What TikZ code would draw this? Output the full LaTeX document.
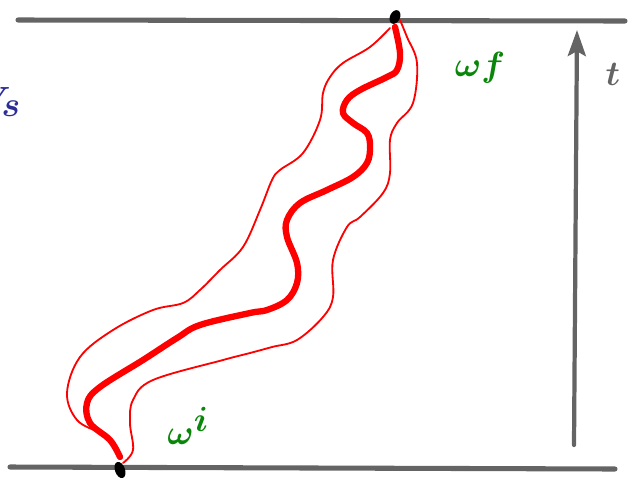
\documentclass[tikz,border=0pt]{standalone}
\usepackage{tikz}
\usetikzlibrary{arrows.meta,shapes.geometric}

\definecolor{boardgray}{RGB}{100,100,100}
\definecolor{pathred}{RGB}{255,0,0}
\definecolor{labelgreen}{RGB}{10,135,10}
\definecolor{labelblue}{RGB}{45,45,150}

\begin{document}
\begin{tikzpicture}[
    x=0.025cm, y=-0.025cm,
    boundary/.style={draw=boardgray, line width=3.6pt, line cap=round},
    timearrow/.style={draw=boardgray, line width=3pt, line cap=round,
        -{Stealth[width=0.45cm, length=0.65cm, inset=0.12cm]}},
    history/.style={draw=pathred, line width=4.5pt, line cap=round, line join=round},
    envelope/.style={draw=pathred, line width=1.3pt, line cap=round, line join=round},
    endpoint/.style={ellipse, fill=black, inner sep=0pt},
    greenlabel/.style={text=labelgreen, font=\fontsize{48}{52}\selectfont\boldmath},
    graylabel/.style={text=boardgray, font=\fontsize{62}{66}\selectfont\boldmath}
]
\useasboundingbox (0,0) rectangle (637,482);

% Boundaries
\draw[boundary] (18,20) -- (625,21);
\draw[boundary] (10,467) -- (615,469);

% Time arrow
\coordinate (tstart) at (574,445);
\coordinate (tend) at (577,30);
\draw[timearrow] (tstart) -- (tend);
\node[graylabel] (tlabel) at (613,74) {$t$};

% Spatial slice label
\node[text=labelblue, font=\fontsize{44}{48}\selectfont\boldmath, anchor=east] (vs) at (26,102) {$V_s$};

% Envelope of histories
\draw[envelope] plot[smooth, tension=0.6] coordinates {
    (117,453) (113,443) (100,433) (77,420) (67,393) (80,357) (113,330)
    (153,310) (183,303) (200,290) (220,270) (243,247) (260,210) (272,180)
    (280,170) (303,153) (320,120) (323,93) (330,77) (343,63) (370,47) (390,28)};
\draw[envelope] plot[smooth, tension=0.6] coordinates {
    (123,463) (133,450) (130,423) (133,400) (153,380) (223,360) (250,353)
    (272,347) (297,340) (323,317) (333,297) (333,260) (347,227) (360,217)
    (383,193) (390,173) (390,140) (397,123) (413,103) (417,63) (407,37) (400,20)};

% Classical history
\draw[history] plot[smooth, tension=0.6] coordinates {
    (120,457) (110,440) (90,423) (87,403) (100,387) (143,360) (177,338)
    (200,325) (250,313) (267,310) (287,300) (297,283) (297,263) (287,237)
    (287,220) (300,203) (327,190) (353,177) (367,163) (370,147) (367,133)
    (353,123) (343,113) (347,100) (360,90) (387,77) (397,70) (400,53) (395,27)};

% End points
\node[endpoint, minimum width=0.25cm, minimum height=0.42cm, rotate=20] (wi) at (120,470) {};
\node[endpoint, minimum width=0.25cm, minimum height=0.36cm, rotate=-25] (wf) at (395,17) {};

\node[greenlabel] (wflabel) at (480,68) {$\omega f$};
\node[greenlabel] (wilabel) at (188,426) {$\omega^{i}$};

\end{tikzpicture}
\end{document}
